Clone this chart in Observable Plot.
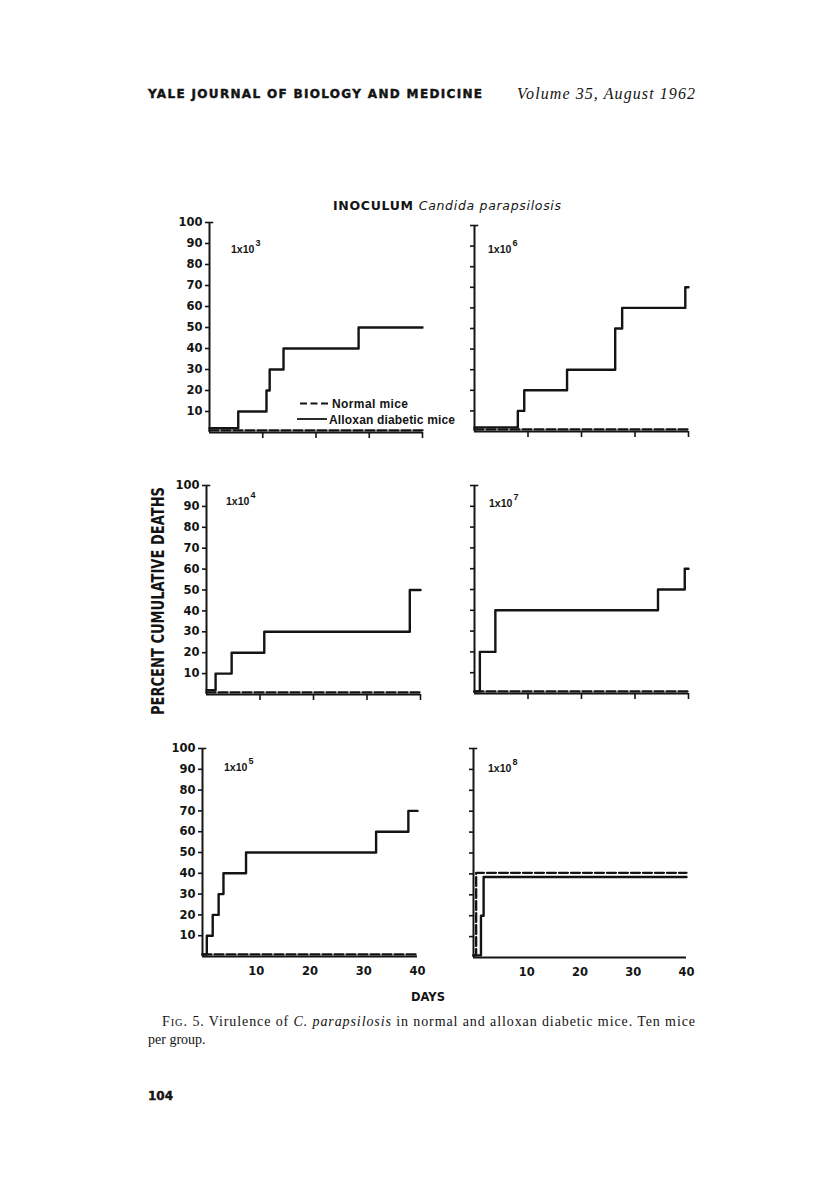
<!DOCTYPE html>
<html>
<head>
<meta charset="utf-8">
<script src="https://cdn.jsdelivr.net/npm/d3@7"></script>
<script src="https://cdn.jsdelivr.net/npm/@observablehq/plot@0.6"></script>
<style>
  body { margin: 0; background: #fff; }
  #page { position: relative; width: 816px; height: 1200px; background: #fff; overflow: hidden; }
  .panel { position: absolute; }
  #overlay { position: absolute; left: 0; top: 0; pointer-events: none; }
</style>
</head>
<body>
<div id="page"></div>
<script>
// ---------------- data ----------------
const tickDays = [10, 20, 30, 40];
const tickPercents = [10, 20, 30, 40, 50, 60, 70, 80, 90, 100];

// Inoculum 1x10^3
const days1e3Alloxan = [0, 5.4, 10.7, 11.3, 13.9, 28.0, 40];
const pct1e3Alloxan  = [2, 10, 20, 30, 40, 50, 50];
const days1e3Normal  = [0, 40];
const pct1e3Normal   = [1, 1];

// Inoculum 1x10^4
const days1e4Alloxan = [0, 1.7, 4.7, 10.8, 38.0, 40];
const pct1e4Alloxan  = [2, 10, 20, 30, 50, 50];
const days1e4Normal  = [0, 40];
const pct1e4Normal   = [1, 1];

// Inoculum 1x10^5
const days1e5Alloxan = [0, 0.8, 1.9, 3.0, 3.9, 8.1, 32.3, 38.3, 40];
const pct1e5Alloxan  = [1, 10, 20, 30, 40, 50, 60, 70, 70];
const days1e5Normal  = [0, 40];
const pct1e5Normal   = [1, 1];

// Inoculum 1x10^6
const days1e6Alloxan = [0, 8.1, 9.3, 17.3, 26.3, 27.6, 39.4, 40];
const pct1e6Alloxan  = [2, 10, 20, 30, 50, 60, 70, 70];
const days1e6Normal  = [0, 40];
const pct1e6Normal   = [1, 1];

// Inoculum 1x10^7
const days1e7Alloxan = [0, 1.0, 3.9, 34.3, 39.3, 40];
const pct1e7Alloxan  = [1, 20, 40, 50, 60, 60];
const days1e7Normal  = [0, 40];
const pct1e7Normal   = [1, 1];

// Inoculum 1x10^8
const days1e8Alloxan = [0, 1.4, 1.9, 40];
const pct1e8Alloxan  = [1, 20, 38.5, 38.5];
const days1e8Normal  = [0, 0.5, 40];
const pct1e8Normal   = [1, 40.5, 40.5];

const inoculumExponents = ["3", "6", "4", "7", "5", "8"];
const seriesNames = ["Normal mice", "Alloxan diabetic mice"];

const panelData = [
  {aDays: days1e3Alloxan, aPct: pct1e3Alloxan, nDays: days1e3Normal, nPct: pct1e3Normal},
  {aDays: days1e6Alloxan, aPct: pct1e6Alloxan, nDays: days1e6Normal, nPct: pct1e6Normal},
  {aDays: days1e4Alloxan, aPct: pct1e4Alloxan, nDays: days1e4Normal, nPct: pct1e4Normal},
  {aDays: days1e7Alloxan, aPct: pct1e7Alloxan, nDays: days1e7Normal, nPct: pct1e7Normal},
  {aDays: days1e5Alloxan, aPct: pct1e5Alloxan, nDays: days1e5Normal, nPct: pct1e5Normal},
  {aDays: days1e8Alloxan, aPct: pct1e8Alloxan, nDays: days1e8Normal, nPct: pct1e8Normal}
];

// ---------------- layout ----------------
const panelLayout = [
  {x0: 209, y100: 222, w: 213, h: 210, left: true,  bottom: false, lx: 22, ly: 31},
  {x0: 474, y100: 225, w: 214, h: 206, left: false, bottom: false, lx: 14, ly: 28},
  {x0: 206, y100: 485, w: 214, h: 209, left: true,  bottom: false, lx: 20, ly: 20},
  {x0: 474, y100: 485, w: 214, h: 208, left: false, bottom: false, lx: 15, ly: 22},
  {x0: 202, y100: 748, w: 215, h: 208, left: true,  bottom: true,  lx: 22, ly: 23},
  {x0: 473, y100: 748, w: 213, h: 209, left: false, bottom: true,  lx: 15, ly: 24}
];
const ML = 44, MR = 10, MT = 6, MB = 30;
const INK = "#141414";

const page = document.getElementById("page");

panelData.forEach((d, i) => {
  const L = panelLayout[i];
  const alloxan = d.aDays.map((x, j) => ({day: x, pct: d.aPct[j], group: seriesNames[1]}));
  const normal = d.nDays.map((x, j) => ({day: x, pct: d.nPct[j], group: seriesNames[0]}));
  const chart = Plot.plot({
    width: ML + L.w + MR,
    height: MT + L.h + MB,
    marginLeft: ML, marginRight: MR, marginTop: MT, marginBottom: MB,
    x: {domain: [0, 40]},
    y: {domain: [0, 100]},
    style: {
      fontFamily: "'DejaVu Sans', sans-serif",
      fontSize: "11.5px",
      fontWeight: "bold",
      color: INK,
      background: "transparent",
      overflow: "visible"
    },
    marks: [
      Plot.axisY({
        ticks: tickPercents,
        tickSize: 4,
        tickPadding: 3,
        strokeWidth: 1.6,
        tickFormat: L.left ? (v) => String(v) : () => "",
        label: null
      }),
      Plot.axisX({
        ticks: tickDays,
        tickSize: L.bottom ? 0 : 6,
        tickPadding: L.bottom ? 10 : 3,
        strokeWidth: 1.6,
        tickFormat: L.bottom ? (v) => String(v) : () => "",
        label: null
      }),
      // small serif at the top of the y axis
      Plot.ruleY([100], {x1: 0, x2: 0.8, stroke: INK, strokeWidth: 1.6}),
      Plot.ruleX([0], {stroke: INK, strokeWidth: 2}),
      Plot.ruleY([0], {stroke: INK, strokeWidth: 2}),
      Plot.line(normal, {x: "day", y: "pct", curve: "step-after", stroke: INK, strokeWidth: 2.3, strokeDasharray: "9,3"}),
      Plot.line(alloxan, {x: "day", y: "pct", curve: "step-after", stroke: INK, strokeWidth: 2.4})
    ]
  });
  const div = document.createElement("div");
  div.className = "panel";
  div.style.left = (L.x0 - ML) + "px";
  div.style.top = (L.y100 - MT) + "px";
  div.appendChild(chart);
  page.appendChild(div);
});

// ---------------- text overlay ----------------
const svg = d3.select(page).append("svg")
  .attr("id", "overlay")
  .attr("width", 816).attr("height", 1200);

const sans = "'DejaVu Sans', sans-serif";
const narrowSans = "'Liberation Sans', sans-serif";
const serif = "'Liberation Serif', 'DejaVu Serif', serif";

// running header
svg.append("text")
  .attr("x", 148).attr("y", 98)
  .attr("font-family", sans).attr("font-weight", "bold").attr("font-size", 12)
  .attr("textLength", 334).attr("lengthAdjust", "spacing")
  .attr("fill", INK).attr("stroke", INK).attr("stroke-width", 0.45)
  .text("YALE JOURNAL OF BIOLOGY AND MEDICINE");
svg.append("text")
  .attr("x", 517).attr("y", 98.5)
  .attr("font-family", serif).attr("font-style", "italic").attr("font-size", 16)
  .attr("textLength", 178).attr("lengthAdjust", "spacing")
  .attr("fill", INK)
  .text("Volume 35, August 1962");

// figure title
const title = svg.append("text")
  .attr("x", 333).attr("y", 210)
  .attr("font-family", sans).attr("font-size", 12.5).attr("fill", INK)
  .attr("textLength", 228).attr("lengthAdjust", "spacing");
title.append("tspan").attr("font-weight", "bold").text("INOCULUM ");
title.append("tspan").attr("font-style", "italic").text("Candida parapsilosis");

// y-axis label
svg.append("text")
  .attr("transform", "translate(164,601) rotate(-90)")
  .attr("text-anchor", "middle")
  .attr("font-family", sans).attr("font-weight", "bold").attr("font-size", 17.5)
  .attr("textLength", 228).attr("lengthAdjust", "spacingAndGlyphs")
  .attr("fill", INK)
  .text("PERCENT CUMULATIVE DEATHS");

// x-axis label
svg.append("text")
  .attr("x", 428).attr("y", 1001).attr("text-anchor", "middle")
  .attr("font-family", sans).attr("font-weight", "bold").attr("font-size", 11.5)
  .attr("fill", INK)
  .text("DAYS");

// panel labels 1x10^n (base and exponent as neighbouring texts)
panelLayout.forEach((L, i) => {
  const bx = L.x0 + L.lx, by = L.y100 + L.ly;
  svg.append("text")
    .attr("x", bx).attr("y", by)
    .attr("font-family", narrowSans).attr("font-weight", "bold")
    .attr("font-size", 10.5).attr("fill", INK)
    .text("1x10");
  svg.append("text")
    .attr("x", bx + 24.5).attr("y", by - 7)
    .attr("font-family", narrowSans).attr("font-weight", "bold")
    .attr("font-size", 9).attr("fill", INK)
    .text(inoculumExponents[i]);
});

// legend (inside 1x10^3 panel)
svg.append("line").attr("x1", 300).attr("x2", 330).attr("y1", 403.5).attr("y2", 403.5)
  .attr("stroke", INK).attr("stroke-width", 2.2).attr("stroke-dasharray", "7,3.5");
svg.append("line").attr("x1", 297).attr("x2", 327).attr("y1", 419).attr("y2", 419)
  .attr("stroke", INK).attr("stroke-width", 1.8);
svg.append("text").attr("x", 332).attr("y", 408)
  .attr("font-family", narrowSans).attr("font-weight", "bold").attr("font-size", 12)
  .attr("textLength", 76).attr("fill", INK).text(seriesNames[0]);
svg.append("text").attr("x", 329).attr("y", 423.5)
  .attr("font-family", narrowSans).attr("font-weight", "bold").attr("font-size", 12)
  .attr("textLength", 126).attr("fill", INK).text(seriesNames[1]);

// caption
const cap1 = svg.append("text")
  .attr("x", 162).attr("y", 1026)
  .attr("font-family", serif).attr("font-size", 14)
  .attr("textLength", 533).attr("lengthAdjust", "spacing")
  .attr("fill", INK);
cap1.append("tspan").text("F");
cap1.append("tspan").attr("font-size", 10.5).text("IG");
cap1.append("tspan").text(". 5. Virulence of ");
cap1.append("tspan").attr("font-style", "italic").text("C. parapsilosis");
cap1.append("tspan").text(" in normal and alloxan diabetic mice. Ten mice");
svg.append("text")
  .attr("x", 148).attr("y", 1044)
  .attr("font-family", serif).attr("font-size", 14).attr("fill", INK)
  .text("per group.");

// page number
svg.append("text")
  .attr("x", 148).attr("y", 1100)
  .attr("font-family", sans).attr("font-weight", "bold").attr("font-size", 12)
  .attr("fill", INK).attr("stroke", INK).attr("stroke-width", 0.4)
  .text("104");
</script>
</body>
</html>
